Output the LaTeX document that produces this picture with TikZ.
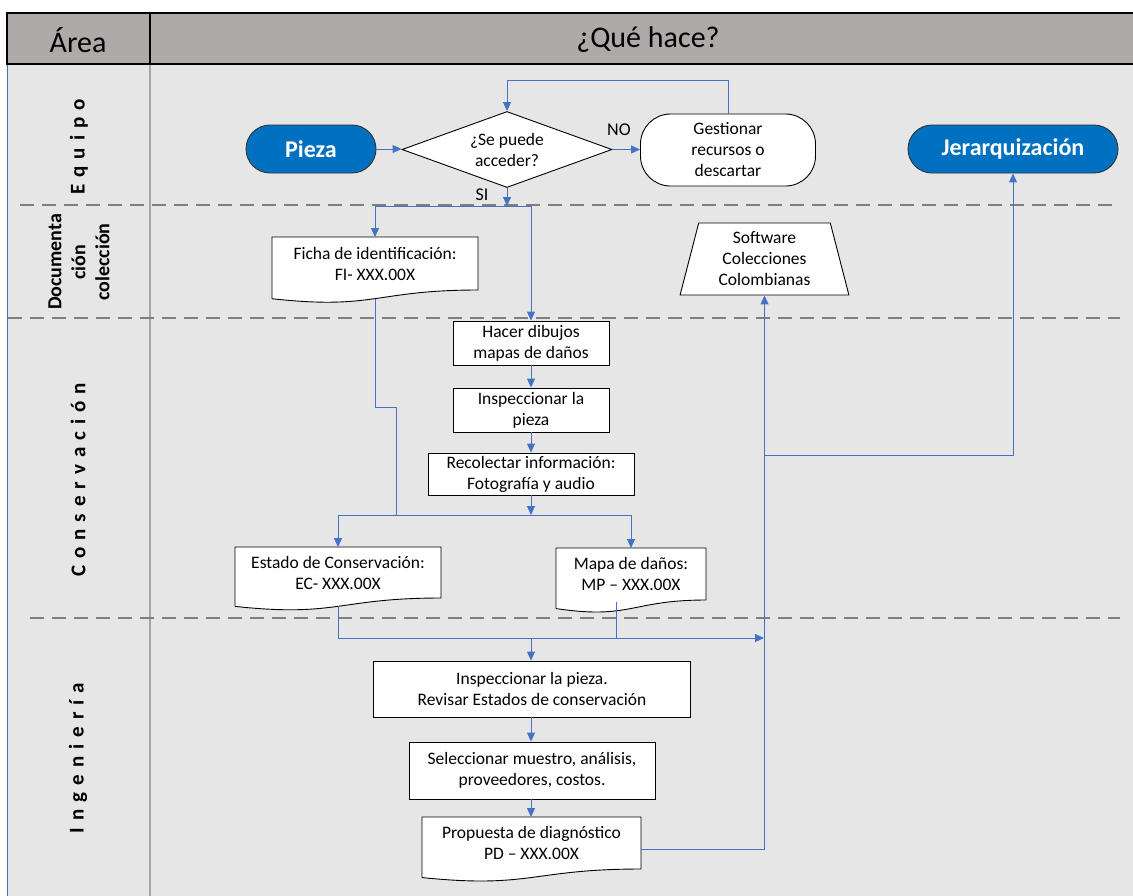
\documentclass[tikz,border=0pt]{standalone}
\usepackage{fontspec}
\setmainfont{Carlito}
\usetikzlibrary{arrows.meta,shapes.geometric,calc}
\definecolor{bodybg}{HTML}{E7E6E6}
\definecolor{headbg}{HTML}{AEAAAA}
\definecolor{flow}{HTML}{4472C4}
\definecolor{termblue}{HTML}{0070C0}
\definecolor{dashgray}{HTML}{7F7F7F}
\definecolor{sepgray}{HTML}{A6A6A6}
\definecolor{leftblue}{HTML}{4A6FB0}
\def\mygobble#1{}
\def\spacedA#1#2{#1\ifx\relax#2\expandafter\mygobble\else\kern7pt\expandafter\spacedA\fi#2}
\def\spaced#1{\spacedA#1\relax}
\newcommand\docwave[2]{%
 \fill[white] (#1.south east) .. controls (#1.south) and ($(#1.south)+(0,#2*0.305)$) .. ($(#1.south west)+(0,#2*0.132)$) -- (#1.south west) -- cycle;
 \draw[black, line width=0.9pt, line join=miter] ($(#1.south west)+(0,#2*0.132)$) -- (#1.north west) -- (#1.north east) -- (#1.south east) .. controls (#1.south) and ($(#1.south)+(0,#2*0.305)$) .. ($(#1.south west)+(0,#2*0.132)$);}
\tikzset{
 conn/.style={draw=flow, line width=1pt},
 arr/.style={conn, -{Triangle[length=9pt,width=8pt]}},
 bodyfont/.style={font=\fontsize{17.5}{21}\selectfont},
 box/.style={bodyfont, draw=black, line width=0.9pt, fill=white, align=center, inner sep=2pt},
 docnode/.style={bodyfont, draw=none, fill=white, align=center, inner sep=2pt, outer sep=0pt},
 term/.style={draw=black!80, line width=0.9pt, fill=termblue, rounded corners=24pt, text=white, font=\fontsize{24}{28}\selectfont\bfseries, minimum height=48pt},
 gestbox/.style={box, rounded corners=30pt, minimum width=175pt, minimum height=72pt},
 decbox/.style={box, diamond, aspect=2.763, minimum width=210pt, minimum height=76pt, inner sep=0pt},
 softbox/.style={box, trapezium, trapezium left angle=76.7, trapezium right angle=76.7, trapezium stretches=true, minimum width=169pt, minimum height=72pt, inner sep=1pt},
 lane/.style={rotate=90, font=\fontsize{21}{24}\selectfont\bfseries, align=center},
 sepline/.style={draw=dashgray, line width=2pt, dash pattern=on 14pt off 8pt},
 lbl/.style={font=\fontsize{18}{20}\selectfont},
}
\begin{document}
\begin{tikzpicture}[x=1pt,y=-1pt]
\useasboundingbox (0,0) rectangle (1133,895);
% frame
\fill[bodybg] (8,64) rectangle (1140,900);
\fill[headbg] (7,13) rectangle (1140,64);
\draw[black, line width=2pt] (1140,13) -- (7,13) -- (7,64) -- (1140,64);
\draw[black, line width=2pt] (150,13) -- (150,64);
\draw[sepgray, line width=1.5pt] (150,65) -- (150,900);
\draw[leftblue, line width=1.5pt] (7.5,65) -- (7.5,900);
\node[font=\fontsize{30}{36}\selectfont] (harea) at (78,40) {Área};
\node[font=\fontsize{30}{36}\selectfont] (hque) at (648,40) {¿Qué hace?};
% lane separators
\draw[sepline] (20,205) -- (1118,205);
\draw[sepline] (8,318) -- (1120,318);
\draw[sepline] (30,618) -- (1120,618);
% lane labels
\node[lane] (lequipo) at (79,147) {\spaced{Equipo}};
\node[lane, font=\fontsize{20}{24}\selectfont\bfseries] (ldoc) at (79,262) {Documenta\\ción\\colección};
\node[lane] (lcons) at (78,480) {\spaced{Conservación}};
\node[lane] (ling) at (78,758) {\spaced{Ingeniería}};
% nodes
\node[term, minimum width=130pt] (pieza) at (311,149) {Pieza};
\node[decbox] (dec) at (507,149.5) {¿Se puede\\acceder?};
\node[gestbox] (gest) at (728,150) {Gestionar\\recursos o\\descartar};
\node[term, minimum width=210pt] (jer) at (1013,149) {Jerarquización};
\node[docnode, minimum width=206pt, minimum height=53pt] (ficha) at (375,263.5) {Ficha de identificación:\\FI- XXX.00X};
\docwave{ficha}{66}
\node[softbox] (soft) at (764.5,259) {Software\\Colecciones\\Colombianas};
\node[box, minimum width=156pt, minimum height=44pt] (hacer) at (531,343) {Hacer dibujos\\mapas de daños};
\node[box, minimum width=156pt, minimum height=44pt] (insp) at (531,410) {Inspeccionar la\\pieza};
\node[box, minimum width=206pt, minimum height=42pt] (recol) at (531,474) {Recolectar información:\\Fotografía y audio};
\node[docnode, minimum width=206pt, minimum height=51pt] (estado) at (338,572.5) {Estado de Conservación:\\EC- XXX.00X};
\docwave{estado}{63.6}
\node[docnode, minimum width=150pt, minimum height=52pt] (mapa) at (631,574) {Mapa de daños:\\MP – XXX.00X};
\docwave{mapa}{64.8}
\node[box, minimum width=317pt, minimum height=56pt] (insp2) at (532,689) {Inspeccionar la pieza.\\Revisar Estados de conservación};
\node[box, minimum width=246pt, minimum height=57pt] (selec) at (532,770.5) {Seleccionar muestro, análisis,\\proveedores, costos.};
\node[docnode, minimum width=219pt, minimum height=52pt] (prop) at (531.5,843) {Propuesta de diagnóstico\\PD – XXX.00X};
\docwave{prop}{64.8}
% labels
\node[lbl] (lno) at (619,130) {NO};
\node[lbl] (lsi) at (482,195) {SI};
% helper coordinates
\coordinate (loop) at (600,80);
\coordinate (split1) at (450,206);
\coordinate (fichaB) at ($(ficha.south)+(0,8.6)$);
\coordinate (kink) at (396,407);
\coordinate (split2) at (450,515);
\coordinate (estadoB) at ($(estado.south)+(0,8.3)$);
\coordinate (mapaB) at (616,602);
\coordinate (bus) at (764,638);
\coordinate (propR) at ($(prop.north east)+(0,32)$);
\coordinate (tap) at (764,455);
% connectors
\draw[arr] (pieza.east) -- (pieza.east -| dec.west);
\draw[arr] (dec.east) -- (dec.east -| gest.west);
\draw[arr] (gest.north) -- (gest.north |- loop) -| (dec.north);
\draw[arr] (dec.south) -- (dec.south |- split1);
\draw[conn] (ficha.north |- split1) -- (hacer.north |- split1);
\draw[arr] (ficha.north |- split1) -- (ficha.north);
\draw[arr] (hacer.north |- split1) -- (hacer.north);
\draw[arr] (hacer.south) -- (insp.north);
\draw[arr] (insp.south) -- (recol.north);
\draw[arr] (recol.south) -- (recol.south |- split2);
\draw[conn] (fichaB) |- (kink) -- (kink |- split2);
\draw[conn] (estado.north |- split2) -- (mapa.north |- split2);
\draw[arr] (estado.north |- split2) -- (estado.north);
\draw[arr] (mapa.north |- split2) -- (mapa.north);
\draw[arr] (estadoB) |- (bus);
\draw[conn] (mapaB) -- (mapaB |- bus);
\draw[arr] (recol.south |- bus) -- (recol.south |- insp2.north);
\draw[arr] (recol.south |- insp2.south) -- (recol.south |- selec.north);
\draw[arr] (recol.south |- selec.south) -- (recol.south |- prop.north);
\draw[arr] (propR) -| (soft.south);
\draw[arr] (tap) -| (jer.south);
\end{tikzpicture}
\end{document}
